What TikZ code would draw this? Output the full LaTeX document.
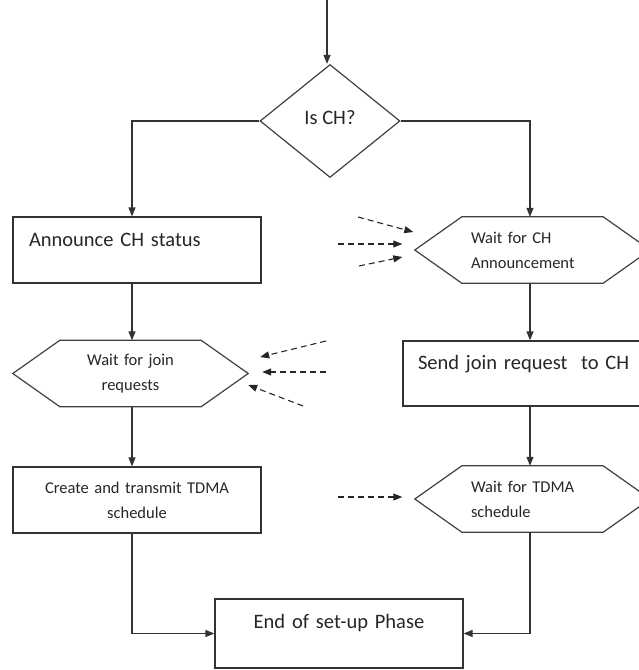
\documentclass[tikz,border=0pt]{standalone}
\usepackage{fontspec}
\setmainfont{Carlito}
\usetikzlibrary{arrows.meta,shapes.geometric}
\tikzstyle{flow}=[line width=1.2pt,draw=black!80,-{Triangle[length=9pt,width=7pt]}]
\tikzstyle{feed}=[line width=1.1pt,draw=black!85,dash pattern=on 6pt off 4pt,-{Triangle[length=9pt,width=7pt]}]
\tikzstyle{frame}=[line width=1.2pt,draw=black!75,line join=miter]
\tikzstyle{decision}=[diamond,frame,minimum width=140pt,minimum height=113pt,inner sep=0pt,
font=\fontsize{20.5}{24}\selectfont,text=black!85]
\tikzstyle{stepbox}=[draw=black!80,line width=1.2pt,minimum width=248pt,text width=216pt,
inner xsep=16pt,inner ysep=0pt,align=left,font=\fontsize{20.5}{24}\selectfont,text=black!85]
\tikzstyle{waitbox}=[minimum width=235pt,minimum height=66pt,inner sep=0pt,text width=123pt,
align=left,font=\fontsize{16.5}{25}\selectfont,text=black!85]
% six-sided outline round a waitbox
\newcommand{\hexframe}[1]{\draw[frame] (#1.west) -- ([xshift=47pt]#1.north west) -- ([xshift=-47pt]#1.north east)
 -- (#1.east) -- ([xshift=-47pt]#1.south east) -- ([xshift=47pt]#1.south west) -- cycle;}
\begin{document}
\begin{tikzpicture}[x=1pt,y=-1pt]
\useasboundingbox (0,0) rectangle (639,670);
\clip (0,0) rectangle (639,670);
\coordinate (top) at (327,0);
\coordinate (lcol) at (132,0);
\coordinate (rcol) at (530,0);
\node[decision] (isch) at (330,121) {\raisebox{8pt}{Is CH?}};
% cluster head side
\node[stepbox,text height=29.6pt,text depth=36.4pt] (announce) at (137,250) {Announce CH status};
\node[waitbox,text width=150pt,align=center] (waitjoin) at (130.5,373.5) {Wait for join\\requests};
\hexframe{waitjoin}
\node[stepbox,minimum height=66pt,align=center,font=\fontsize{16.5}{25}\selectfont] (create) at (137,500) {Create and transmit TDMA\\schedule};
% member side
\node[waitbox] (waitch) at (532.5,250) {Wait for CH\\Announcement};
\hexframe{waitch}
\node[stepbox,minimum width=254pt,text width=224pt,inner xsep=15pt,text height=28.6pt,text depth=36.4pt] (send) at (530,373.5) {Send join request\ \ to CH};
\node[waitbox] (waittdma) at (532.5,499) {Wait for TDMA\\schedule};
\hexframe{waittdma}
\node[stepbox,align=center,text height=29.5pt,text depth=39.5pt] (endsetup) at (339,633.5) {End of set-up Phase};
\draw[flow] (top) -- (top |- isch.north);
\draw[flow] (isch.west) -| (lcol |- announce.north); \draw[flow] (isch.east) -| (rcol |- waitch.north);
\draw[flow] (lcol |- announce.south) -- (lcol |- waitjoin.north);
\draw[flow] (lcol |- waitjoin.south) -- (lcol |- create.north);
\draw[flow] (lcol |- create.south) |- (endsetup.west);
\draw[flow] (rcol |- waitch.south) -- (rcol |- send.north);
\draw[flow] (rcol |- send.south) -- (rcol |- waittdma.north);
\draw[flow] (rcol |- waittdma.south) |- (endsetup.east);
% incoming messages
\coordinate (ch1) at (358,217); \coordinate (ch2) at (338,244); \coordinate (ch3) at (359,266);
\coordinate (jn1) at (326,341); \coordinate (jn2) at (326,372); \coordinate (jn3) at (303,406);
\coordinate (td1) at (338,497);
\draw[feed] (ch1) -- ([shift={(-1.5,-18)}]waitch.west);
\draw[feed] (ch2) -- ([shift={(-12.5,-6)}]waitch.west);
\draw[feed] (ch3) -- ([shift={(-12.5,7)}]waitch.west);
\draw[feed] (jn1) -- ([shift={(12,-16.5)}]waitjoin.east);
\draw[feed] (jn2) -- ([shift={(14,-1.5)}]waitjoin.east);
\draw[feed] (jn3) -- ([shift={(0,11.5)}]waitjoin.east);
\draw[feed] (td1) -- ([shift={(-12.5,-2)}]waittdma.west);
\end{tikzpicture}
\end{document}
